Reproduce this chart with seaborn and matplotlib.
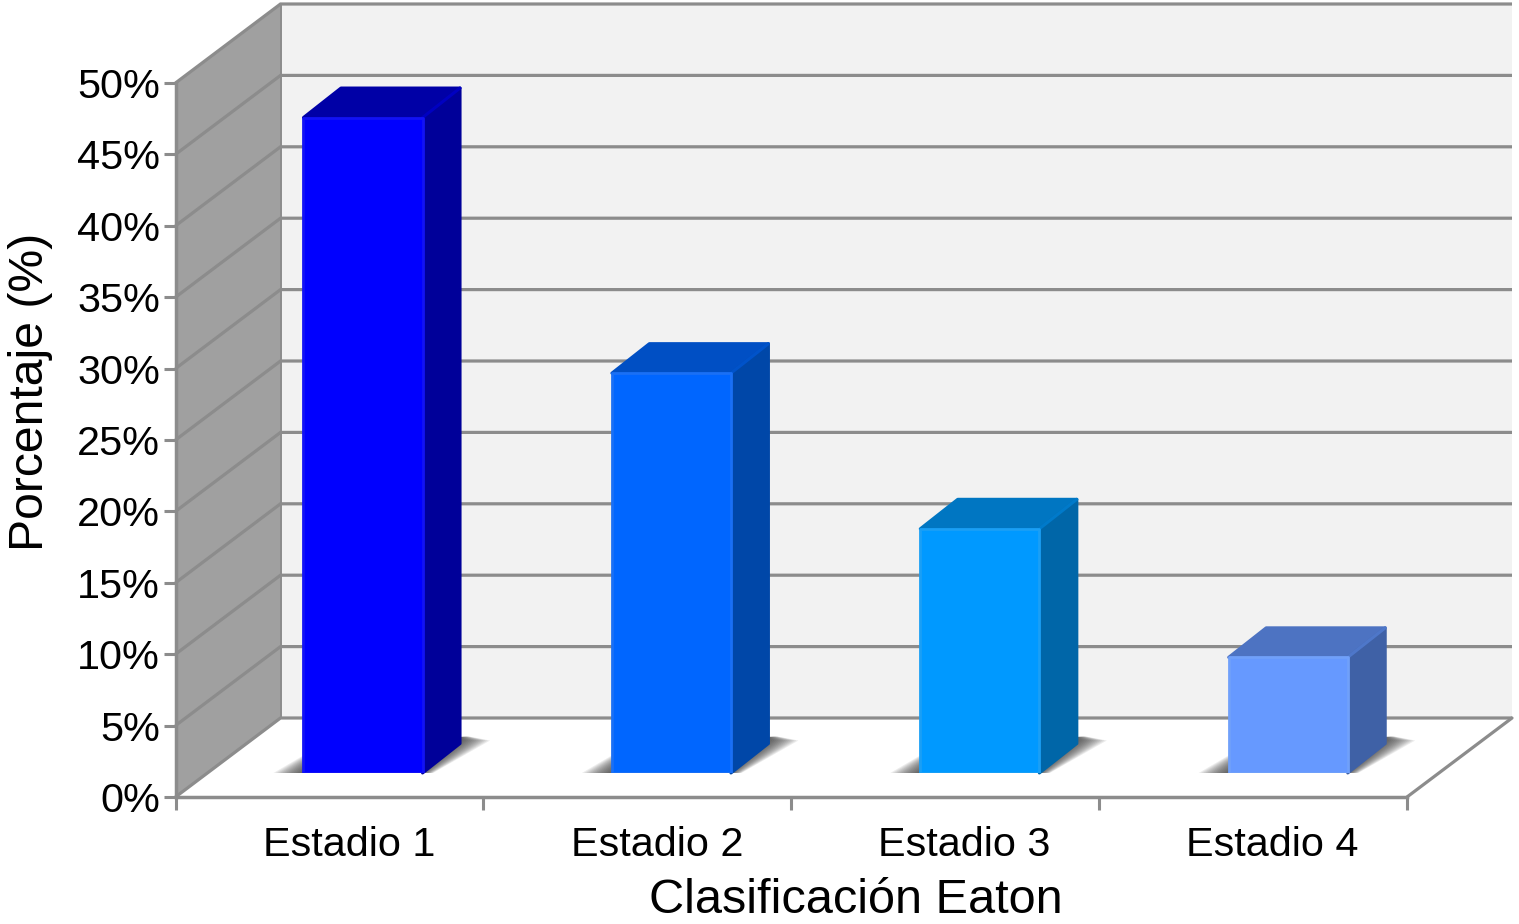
import numpy as np
import pandas as pd
import matplotlib
matplotlib.use("Agg")
import matplotlib.pyplot as plt
import seaborn as sb

categories = ["Estadio 1", "Estadio 2", "Estadio 3", "Estadio 4"]
values = [45.9, 28.0, 17.1, 8.1]
y_ticks = [0, 5, 10, 15, 20, 25, 30, 35, 40, 45, 50]
y_labels = ["0%", "5%", "10%", "15%", "20%", "25%", "30%", "35%", "40%", "45%", "50%"]

front_colors = ["#0000ff", "#0066ff", "#0099ff", "#6699ff"]
top_colors = ["#0000a6", "#004fc4", "#0076c2", "#4d73c2"]
side_colors = ["#000099", "#0047a8", "#0066a8", "#3f61a6"]
edge_colors = ["#1212f5", "#1a70f5", "#1a9ff5", "#70a0fa"]

GRID = "#8c8c8c"
W, H = 1519, 924

sb.set_theme(style="white")
plt.rcParams["font.family"] = ["Liberation Sans", "DejaVu Sans"]

fig = plt.figure(figsize=(W / 100, H / 100), dpi=100, facecolor="white")

# axes box in pixels
left, right, base, top = 175.5, 1407, 797, 83
px_x = (right - left) / 4.0   # pixels per category
px_y = (base - top) / 50.0    # pixels per percent
bar_px_x = 308.4              # bars sit a little wider apart than the axis slots


def box(x0, y0, wide=None):
	wide = (right - left) if wide is None else wide
	return [x0 / W, (H - y0) / H, wide / W, (base - top) / H]


ax = fig.add_axes(box(left, base))
ax.set_facecolor("none")
ax.set_xlim(-0.5, 3.5)
ax.set_ylim(0, 50)

# Walls and floor
wall_x = 105 / px_x
wall_y = 79 / px_y
x0, x1 = -0.5, 3.5
ax.fill([x0, x0 + wall_x, x0 + wall_x, x0], [0, wall_y, 50 + wall_y, 50], color="#a0a0a0", lw=0, clip_on=False, zorder=0)
ax.fill([x0 + wall_x, x1 + wall_x, x1 + wall_x, x0 + wall_x], [wall_y, wall_y, 50 + wall_y, 50 + wall_y], color="#f2f2f2", lw=0, clip_on=False, zorder=0)

for t in y_ticks:
	ax.plot([x0, x0 + wall_x, x1 + wall_x], [t, t + wall_y, t + wall_y], color=GRID, lw=2.3, clip_on=False, zorder=1, solid_joinstyle="miter", solid_capstyle="butt")
ax.plot([x1, x1 + wall_x], [0, wall_y], color=GRID, lw=2.3, clip_on=False, zorder=1)
ax.plot([x0 + wall_x, x0 + wall_x], [wall_y, 50 + wall_y], color=GRID, lw=1.4, clip_on=False, zorder=1)

# Axes decoration
for s in ["top", "right"]:
	ax.spines[s].set_visible(False)
for s in ["left", "bottom"]:
	ax.spines[s].set_color(GRID)
	ax.spines[s].set_linewidth(2.5)

ax.set_yticks(y_ticks)
ax.set_yticklabels(y_labels, fontsize=29.8, color="black")
ax.set_xticks(np.arange(-0.5, 4.0, 1.0))
ax.set_xticklabels([])
ax.set_xticks(np.arange(4) + 19.5 / px_x, minor=True)
ax.set_xticklabels(categories, minor=True, fontsize=29.8, color="black")
ax.tick_params(axis="y", which="major", left=True, length=9, width=2.2, color=GRID, pad=2)
ax.tick_params(axis="x", which="major", bottom=True, length=9, width=2.2, color=GRID)
ax.tick_params(axis="x", which="minor", bottom=False, length=0, pad=21)

ax.set_xlabel("Clasificación Eaton", fontsize=35, color="black")
ax.xaxis.set_label_coords((855.5 - left) / (right - left), (base - 878) / (base - top), transform=ax.transAxes)
ax.set_ylabel("Porcentaje (%)", fontsize=34.7, color="black")
ax.yaxis.set_label_coords((53 - left) / (right - left), (base - 392) / (base - top), transform=ax.transAxes)

# Bars live on a plane set back on the floor
bar_ax = fig.add_axes(box(208.8, 773, bar_px_x * 4))
bar_ax.set_facecolor("none")
df = pd.DataFrame({"stage": categories, "value": values})
sb.barplot(data=df, x="stage", y="value", hue="stage", palette=front_colors, hue_order=categories,
	saturation=1, width=0.386, legend=False, ax=bar_ax, zorder=5)
bar_ax.set_xlim(-0.5, 3.5)
bar_ax.set_ylim(0, 50)
bar_ax.axis("off")

depth_x = 37.5 / bar_px_x
depth_y = 29.5 / px_y

bars = [b for b in bar_ax.patches if b.get_height() > 0]
for i, b in enumerate(bars):
	l = b.get_x()
	r = l + b.get_width()
	v = b.get_height()

	# soft floor shadow, stacked layers getting tighter towards the bar
	for e in np.linspace(1, 0.05, 14):
		sx = e * 30 / bar_px_x
		bar_ax.fill([l - sx, r + 0.35 * sx, r + depth_x + sx, r + depth_x + 0.3 * sx, l + 0.2 * depth_x],
			[0, 0, depth_y + 3 / px_y, depth_y + 7 / px_y, 22 * e ** 0.5 / px_y],
			color="#2a2a2a", alpha=0.085, lw=0, clip_on=False, zorder=2)

	# top and side faces
	bar_ax.fill([l, r, r + depth_x, l + depth_x], [v, v, v + depth_y, v + depth_y], facecolor=top_colors[i],
		edgecolor=top_colors[i], lw=2.2, joinstyle="round", clip_on=False, zorder=4)
	bar_ax.fill([r, r + depth_x, r + depth_x, r], [0, depth_y, v + depth_y, v], facecolor=side_colors[i],
		edgecolor=side_colors[i], lw=2.2, joinstyle="round", clip_on=False, zorder=4)

	# lighter rim on the corner edge and the front face
	bar_ax.plot([r, r + depth_x], [v, v + depth_y], color=front_colors[i], lw=2.2, alpha=0.4, clip_on=False, zorder=4.5)
	b.set_edgecolor(edge_colors[i])
	b.set_linewidth(2.0)
	b.set_joinstyle("round")

fig.savefig("out.png", dpi=100)
